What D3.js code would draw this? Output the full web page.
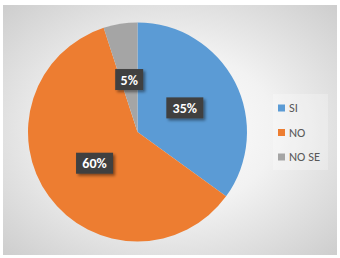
<!DOCTYPE html>
<html>
<head>
<meta charset="utf-8">
<script src="https://cdn.jsdelivr.net/npm/d3@7"></script>
<style>
  body { margin: 0; background: #fff; }
  svg { display: block; }
</style>
</head>
<body>
<script>
var width = 340;
var height = 258;

// chart data
var categories = ["SI", "NO", "NO SE"];
var values = [35, 60, 5];
var colors = ["#5b9bd5", "#ed7d31", "#a5a5a5"];

var svg = d3.select("body").append("svg")
    .attr("width", width)
    .attr("height", height)
    .style("font-family", "Calibri, Carlito, 'Liberation Sans', Arial, sans-serif");

var defs = svg.append("defs");

// background glow: white middle, grey edges
var grad = defs.append("radialGradient")
    .attr("id", "bg")
    .attr("cx", "50%").attr("cy", "50%").attr("r", "70%");
grad.append("stop").attr("offset", "0%").attr("stop-color", "#ffffff");
grad.append("stop").attr("offset", "45%").attr("stop-color", "#f2f2f2");
grad.append("stop").attr("offset", "100%").attr("stop-color", "#cecece");

var shadow = defs.append("filter").attr("id", "shadow")
    .attr("x", "-30%").attr("y", "-30%").attr("width", "160%").attr("height", "160%");
shadow.append("feDropShadow")
    .attr("dx", 2).attr("dy", 2).attr("stdDeviation", 1.5)
    .attr("flood-color", "#000").attr("flood-opacity", 0.45);

svg.append("rect")
    .attr("x", 3).attr("y", 5)
    .attr("width", 334).attr("height", 250)
    .attr("fill", "url(#bg)");

var cx = 137.5, cy = 132, radius = 109.5;

var pie = d3.pie().sort(null).value(function(d) { return d.value; });
var data = categories.map(function(c, i) { return { name: c, value: values[i], color: colors[i] }; });
var arcs = pie(data);

var arc = d3.arc().innerRadius(0).outerRadius(radius);

var g = svg.append("g").attr("transform", "translate(" + cx + "," + cy + ")");

g.selectAll("path")
    .data(arcs)
    .enter().append("path")
    .attr("d", arc)
    .attr("fill", function(d) { return d.data.color; });

// data labels sit about halfway out
var labelArc = d3.arc().innerRadius(radius * 0.485).outerRadius(radius * 0.485);

var total = d3.sum(values);
var labels = g.selectAll("g.lab")
    .data(arcs)
    .enter().append("g")
    .attr("class", "lab")
    .attr("transform", function(d) {
      var p = labelArc.centroid(d);
      return "translate(" + p[0] + "," + p[1] + ")";
    });

labels.each(function(d) {
  var txt = Math.round(d.data.value / total * 100) + "%";
  var w = txt.length > 2 ? 37 : 28;
  var sel = d3.select(this);
  sel.append("rect")
      .attr("x", -w / 2).attr("y", -10.5)
      .attr("width", w).attr("height", 21)
      .attr("fill", "#404040")
      .attr("filter", "url(#shadow)");
  sel.append("text")
      .attr("text-anchor", "middle")
      .attr("dy", "0.36em")
      .attr("fill", "#ffffff")
      .attr("font-weight", "bold")
      .attr("font-size", 14)
      .text(txt);
});

// legend
var legend = svg.append("g").attr("transform", "translate(278,108)");

legend.append("rect")
    .attr("x", -5).attr("y", -14)
    .attr("width", 55).attr("height", 76)
    .attr("fill", "#ffffff").attr("opacity", 0.25);

var items = legend.selectAll("g.item")
    .data(data)
    .enter().append("g")
    .attr("class", "item")
    .attr("transform", function(d, i) { return "translate(0," + (i * 24.5) + ")"; });

items.append("rect")
    .attr("x", 0).attr("y", -3.5)
    .attr("width", 7).attr("height", 7)
    .attr("fill", function(d) { return d.color; });

items.append("text")
    .attr("x", 11).attr("dy", "0.35em")
    .attr("font-size", 12.5)
    .attr("fill", "#595959")
    .text(function(d) { return d.name; });
</script>
</body>
</html>
